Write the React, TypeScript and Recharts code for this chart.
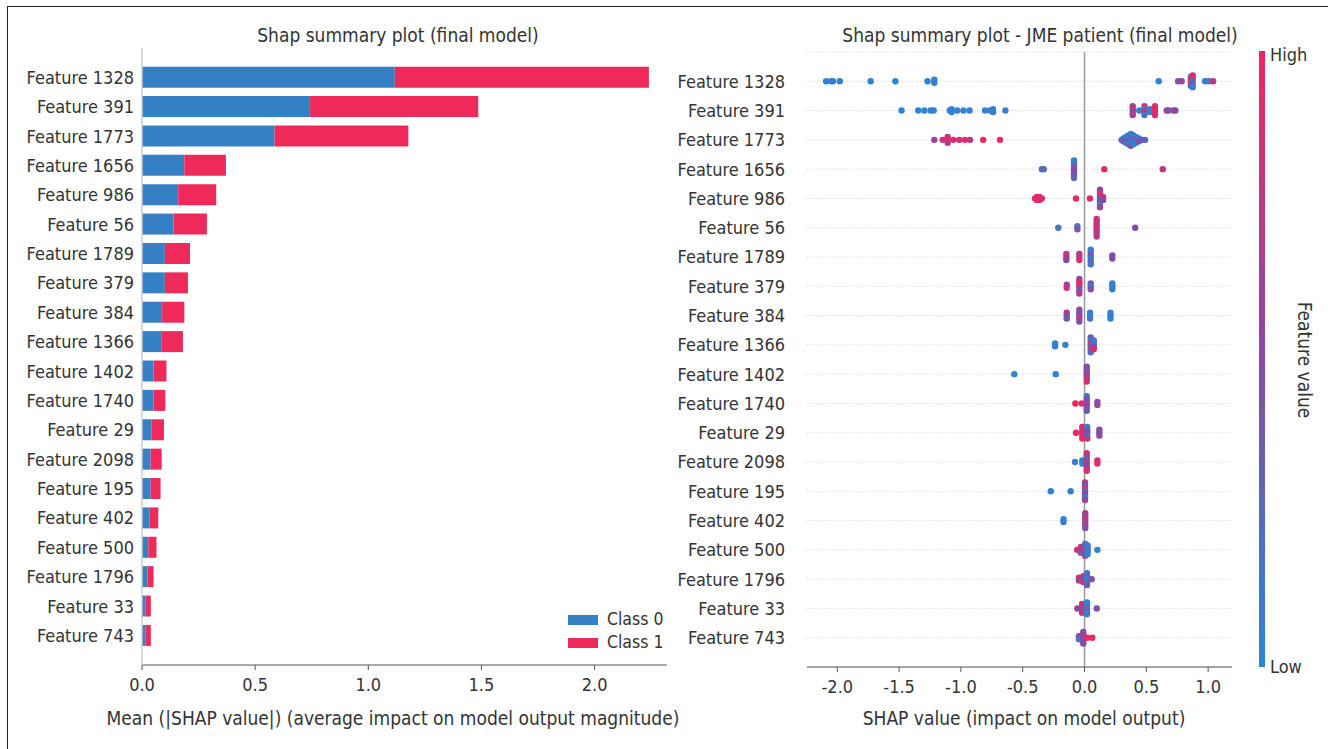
import React from 'react';
import {
  BarChart,
  Bar,
  XAxis,
  YAxis,
  ScatterChart,
  Scatter,
  CartesianGrid,
  ReferenceLine,
} from 'recharts';

const FEATURES = [
  'Feature 1328', 'Feature 391', 'Feature 1773', 'Feature 1656', 'Feature 986',
  'Feature 56', 'Feature 1789', 'Feature 379', 'Feature 384', 'Feature 1366',
  'Feature 1402', 'Feature 1740', 'Feature 29', 'Feature 2098', 'Feature 195',
  'Feature 402', 'Feature 500', 'Feature 1796', 'Feature 33', 'Feature 743',
];

// mean |SHAP| per class (left panel)
const CLASS0 = [1.117, 0.743, 0.586, 0.187, 0.16, 0.139, 0.101, 0.101, 0.089, 0.085,
  0.051, 0.051, 0.043, 0.038, 0.038, 0.034, 0.028, 0.024, 0.016, 0.016];
const CLASS1 = [1.123, 0.743, 0.591, 0.184, 0.168, 0.148, 0.111, 0.102, 0.098, 0.096,
  0.057, 0.052, 0.054, 0.049, 0.044, 0.038, 0.036, 0.027, 0.023, 0.023];
const CLASS_NAMES = ['Class 0', 'Class 1'];

const BAR_TICKS = [0, 0.5, 1.0, 1.5, 2.0];
const SHAP_TICKS = [-2.0, -1.5, -1.0, -0.5, 0, 0.5, 1.0];

// per feature: [shap value, feature values of the points sitting at that value]
const SHAP_POINTS: [number, number[]][][] = [
  [[-2.09, [0.05]], [-2.05, [0.05]], [-2.035, [0.08]], [-1.98, [0.05]], [-1.73, [0.05]],
    [-1.53, [0.05]], [-1.27, [0.05]], [-1.215, [0.05, 0.08]], [0.6, [0.05]], [0.757, [0.45]],
    [0.786, [0.6]], [0.86, [0.05, 0.9, 0.95, 0.3]], [0.875, [0.85, 1.0, 0.2, 0.4, 0.1]],
    [0.975, [0.05]], [1.005, [0.1]], [1.04, [0.75]]],
  [[-1.48, [0.05]], [-1.345, [0.05]], [-1.296, [0.05]], [-1.245, [0.05]], [-1.22, [0.05]],
    [-1.09, [0.05]], [-1.075, [0.05, 0.08]], [-1.03, [0.05]], [-0.98, [0.05]], [-0.93, [0.05]],
    [-0.805, [0.05]], [-0.765, [0.05]], [-0.74, [0.05, 0.08]], [-0.64, [0.05]],
    [0.39, [0.55, 0.9, 0.45, 0.7]], [0.443, [0.1]], [0.485, [0.9, 0.1, 0.95, 0.2]],
    [0.53, [0.1, 0.05]], [0.57, [0.95, 0.9, 1.0, 0.85]], [0.665, [0.5]], [0.68, [0.45]],
    [0.72, [0.55]], [0.735, [0.5]]],
  [[-1.215, [0.6]], [-1.147, [0.9]], [-1.107, [0.85, 0.95, 0.7]], [-1.06, [0.9]],
    [-1.013, [0.85]], [-0.967, [0.95]], [-0.926, [0.75]], [-0.82, [1.0]], [-0.684, [1.0]],
    [0.3, [0.35]], [0.315, [0.1, 0.4]], [0.335, [0.05, 0.45, 0.2]], [0.355, [0.1, 0.05, 0.4, 0.15]],
    [0.375, [0.05, 0.3, 0.1, 0.05, 0.45]], [0.395, [0.1, 0.4, 0.2, 0.05]],
    [0.415, [0.1, 0.35, 0.05]], [0.44, [0.1, 0.45]], [0.47, [0.4]], [0.49, [0.3]]],
  [[-0.345, [0.1]], [-0.33, [0.3]], [-0.085, [0.05, 0.1, 0.4, 0.45, 0.5, 0.35, 0.3]],
    [0.16, [0.95]], [0.633, [0.8]]],
  [[-0.4, [0.95]], [-0.385, [0.9, 1.0]], [-0.365, [0.95, 0.85]], [-0.345, [0.9]],
    [-0.069, [0.95]], [0.044, [0.9]], [0.125, [0.5, 0.7, 0.9, 0.4, 0.3, 0.1, 0.6]],
    [0.15, [0.8, 0.55]]],
  [[-0.212, [0.2]], [-0.058, [0.15, 0.45]], [0.098, [0.75, 0.85, 0.7, 0.9, 0.8, 0.65, 0.75]],
    [0.41, [0.5]]],
  [[-0.147, [0.7, 0.85, 0.5]], [-0.042, [0.8, 0.6, 0.9]], [0.05, [0.05, 0.2, 0.4, 0.1, 0.3, 0.15]],
    [0.225, [0.45, 0.5]]],
  [[-0.144, [0.6, 0.8]], [-0.042, [0.5, 0.9, 1.0, 0.6, 0.4, 0.7]], [0.05, [0.35, 0.15, 0.45]],
    [0.225, [0.05, 0.1, 0.05]]],
  [[-0.144, [0.8, 0.5, 0.4]], [-0.042, [0.6, 0.3, 0.5, 0.7, 0.45]], [0.045, [0.1, 0.05, 0.15]],
    [0.21, [0.05, 0.1, 0.05]]],
  [[-0.238, [0.05, 0.08]], [-0.155, [0.05]], [0.05, [0.4, 0.1, 0.95, 0.3, 0.6, 0.2]],
    [0.075, [0.15, 0.05, 0.5, 0.9]]],
  [[-0.568, [0.05]], [-0.233, [0.05]], [0.018, [0.5, 0.4, 0.6, 0.45, 0.8, 0.9]]],
  [[-0.074, [1.0]], [-0.023, [0.9]], [0.018, [0.1, 0.4, 0.5, 0.6, 0.45, 0.35]], [0.104, [0.5, 0.6]]],
  [[-0.069, [0.95]], [-0.018, [0.9, 0.85, 0.95, 0.8, 1.0]], [0.022, [0.1, 0.3, 0.5, 0.2, 0.7]],
    [0.12, [0.5, 0.45, 0.55]]],
  [[-0.077, [0.1]], [-0.018, [0.05, 0.1]], [0.018, [0.9, 0.6, 0.4, 0.8, 0.5, 0.7, 0.85]],
    [0.104, [0.8, 0.95]]],
  [[-0.273, [0.05]], [-0.112, [0.05]], [0.004, [0.7, 0.4, 0.9, 0.3, 0.5, 0.1, 0.6]]],
  [[-0.17, [0.05, 0.08]], [0.006, [0.8, 0.5, 0.9, 0.6, 0.7, 0.45]]],
  [[-0.06, [0.9]], [-0.03, [0.6, 0.8, 0.4]], [0.005, [0.2, 0.5, 0.85, 0.3, 0.6]],
    [0.025, [0.05, 0.1, 0.15, 0.05]], [0.104, [0.05]]],
  [[-0.045, [0.9, 0.6]], [-0.01, [0.7, 0.5, 0.85]], [0.02, [0.1, 0.3, 0.05, 0.2, 0.4]],
    [0.058, [0.45]]],
  [[-0.058, [0.55]], [-0.02, [0.9, 0.7, 0.5, 0.8]], [0.02, [0.05, 0.1, 0.3, 0.2, 0.15]],
    [0.099, [0.45]]],
  [[-0.045, [0.5, 0.2]], [-0.01, [0.4, 0.55, 0.6, 0.45, 0.5]], [0.022, [1.0]], [0.063, [0.95]]],
];

const BLUE = '#3681C5';
const RED = '#EE2A5B';
const TEXT = '#333';
const FONT = '"DejaVu Sans Condensed", "DejaVu Sans", sans-serif';

const LOW_RGB = [40, 136, 215];
const MID_RGB = [135, 75, 165];
const HIGH_RGB = [238, 38, 98];

const featureColor = (v: number) => {
  const [a, b, t] = v < 0.5 ? [LOW_RGB, MID_RGB, v / 0.5] : [MID_RGB, HIGH_RGB, (v - 0.5) / 0.5];
  const c = a.map((ch, i) => Math.round(ch + (b[i] - ch) * t));
  return `rgb(${c[0]},${c[1]},${c[2]})`;
};

const barRows = FEATURES.map((name, i) => ({ name, class0: CLASS0[i], class1: CLASS1[i] }));

// stack points that share a value vertically around the row line
const STACK_STEP = 0.1;
const swarm = SHAP_POINTS.flatMap((groups, row) =>
  groups.flatMap(([x, fvs]) =>
    fvs.map((fv, k) => ({ x, y: row + (k - (fvs.length - 1) / 2) * STACK_STEP, fv }))
  )
);

const tickStyle = { fontSize: 18, fill: TEXT };

const Dot = (props: any) => (
  <circle cx={props.cx} cy={props.cy} r={3.2} fill={featureColor(props.payload.fv)} />
);

const abs = (style: React.CSSProperties): React.CSSProperties => ({ position: 'absolute', whiteSpace: 'nowrap', ...style });

export default function App() {
  return (
    <div style={{ position: 'absolute', left: 0, top: 0, width: 1328, height: 749, background: '#fff', fontFamily: FONT, color: TEXT, overflow: 'hidden' }}>
      <div style={abs({ left: 7, top: 6, right: -2, bottom: -2, borderTop: '1.5px solid #222', borderLeft: '1.5px solid #222' })} />

      <div style={abs({ left: 398, top: 35, transform: 'translate(-50%, -50%)', fontSize: 19 })}>
        Shap summary plot (final model)
      </div>
      <div style={abs({ left: 1040, top: 35, transform: 'translate(-50%, -50%)', fontSize: 19 })}>
        Shap summary plot - JME patient (final model)
      </div>
      <div style={abs({ left: 393, top: 718, transform: 'translate(-50%, -50%)', fontSize: 19 })}>
        Mean (|SHAP value|) (average impact on model output magnitude)
      </div>
      <div style={abs({ left: 1024, top: 718, transform: 'translate(-50%, -50%)', fontSize: 19 })}>
        SHAP value (impact on model output)
      </div>

      <div style={abs({ left: 0, top: 0 })}>
        <BarChart layout="vertical" width={680} height={749} data={barRows}
          margin={{ top: 48, right: 13, bottom: 0, left: 0 }}>
          <XAxis type="number" domain={[0, 2.32]} ticks={BAR_TICKS} allowDataOverflow
            tickFormatter={(v: number) => v.toFixed(1)} height={84} tick={tickStyle}
            axisLine={{ stroke: '#555' }} tickLine={{ stroke: '#555' }} tickSize={5} tickMargin={8} />
          <YAxis type="category" dataKey="name" width={142} padding={{ top: 14.7, bottom: 14.7 }}
            tick={tickStyle} tickLine={false} axisLine={{ stroke: '#ccc', strokeWidth: 1.5 }}
            tickSize={6} tickMargin={2} interval={0} />
          <Bar dataKey="class0" name={CLASS_NAMES[0]} stackId="s" fill={BLUE} barSize={21} isAnimationActive={false} />
          <Bar dataKey="class1" name={CLASS_NAMES[1]} stackId="s" fill={RED} barSize={21} isAnimationActive={false} />
        </BarChart>
      </div>

      <div style={abs({ left: 568, top: 608, fontSize: 17.5, lineHeight: '23px' })}>
        {CLASS_NAMES.map((label, i) => (
          <div key={label} style={{ display: 'flex', alignItems: 'center' }}>
            <span style={{ width: 30, height: 10, background: i === 0 ? BLUE : RED, marginRight: 9, display: 'inline-block' }} />
            {label}
          </div>
        ))}
      </div>

      <div style={abs({ left: 660, top: 0 })}>
        <ScatterChart width={600} height={749} margin={{ top: 52, right: 28, bottom: 0, left: 0 }}>
          <CartesianGrid horizontal vertical={false} stroke="#d6d6d6" strokeDasharray="1 1.5" />
          <XAxis type="number" dataKey="x" domain={[-2.245, 1.193]} ticks={SHAP_TICKS} allowDataOverflow
            tickFormatter={(v: number) => v.toFixed(1)} height={82} tick={tickStyle}
            axisLine={{ stroke: '#555' }} tickLine={{ stroke: '#555' }} tickSize={5} tickMargin={8} />
          <YAxis type="number" dataKey="y" domain={[-1, 20]} reversed allowDataOverflow
            ticks={FEATURES.map((_, i) => i)} tickFormatter={(i: number) => FEATURES[i] ?? ''}
            width={147} tick={tickStyle} axisLine={false} tickLine={false} tickSize={6} tickMargin={16} interval={0} />
          <ReferenceLine x={0} stroke="#999" strokeWidth={1.5} />
          <Scatter data={swarm} shape={Dot} isAnimationActive={false} />
        </ScatterChart>
      </div>

      <div style={abs({ left: 1259, top: 51, width: 6, height: 616,
        background: `linear-gradient(to top, ${featureColor(0)}, ${featureColor(0.5)}, ${featureColor(1)})` })} />
      <div style={abs({ left: 1270, top: 44, fontSize: 18 })}>High</div>
      <div style={abs({ left: 1270, top: 656, fontSize: 18 })}>Low</div>
      <div style={abs({ left: 1305, top: 360, transform: 'translate(-50%, -50%) rotate(90deg)', fontSize: 19 })}>
        Feature value
      </div>
    </div>
  );
}
